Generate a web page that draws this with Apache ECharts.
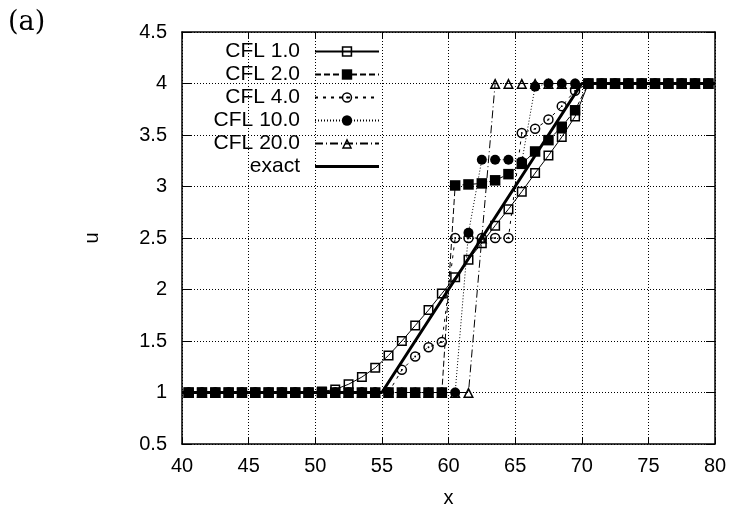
<!DOCTYPE html>
<html>
<head>
<meta charset="utf-8">
<script src="https://cdn.jsdelivr.net/npm/echarts@6/dist/echarts.min.js"></script>
<style>
  html, body { margin: 0; padding: 0; background: #fff; }
  #chart { width: 736px; height: 516px; }
</style>
</head>
<body>
<div id="chart"></div>
<script>
// Cell-centre coordinates of the numerical solutions
const xCells = [
  40.5, 41.5, 42.5, 43.5, 44.5, 45.5, 46.5, 47.5, 48.5, 49.5,
  50.5, 51.5, 52.5, 53.5, 54.5, 55.5, 56.5, 57.5, 58.5, 59.5,
  60.5, 61.5, 62.5, 63.5, 64.5, 65.5, 66.5, 67.5, 68.5, 69.5,
  70.5, 71.5, 72.5, 73.5, 74.5, 75.5, 76.5, 77.5, 78.5, 79.5
];

const uCfl1 = [
  1, 1, 1, 1, 1, 1, 1, 1, 1, 1,
  1.01, 1.03, 1.08, 1.15, 1.24, 1.36, 1.50, 1.65, 1.80, 1.96,
  2.12, 2.29, 2.45, 2.62, 2.78, 2.95, 3.13, 3.30, 3.48, 3.68,
  4, 4, 4, 4, 4, 4, 4, 4, 4, 4
];

const uCfl2 = [
  1, 1, 1, 1, 1, 1, 1, 1, 1, 1,
  1, 1, 1, 1, 1, 1, 1, 1, 1, 1,
  3.01, 3.02, 3.03, 3.06, 3.12, 3.22, 3.34, 3.45, 3.58, 3.74,
  4, 4, 4, 4, 4, 4, 4, 4, 4, 4
];

const uCfl4 = [
  1, 1, 1, 1, 1, 1, 1, 1, 1, 1,
  1, 1, 1, 1, 1, 1, 1.22, 1.35, 1.44, 1.49,
  2.50, 2.50, 2.50, 2.50, 2.50, 3.52, 3.56, 3.65, 3.78, 3.93,
  4, 4, 4, 4, 4, 4, 4, 4, 4, 4
];

const uCfl10 = [
  1, 1, 1, 1, 1, 1, 1, 1, 1, 1,
  1, 1, 1, 1, 1, 1, 1, 1, 1, 1,
  1, 2.55, 3.26, 3.26, 3.26, 3.24, 3.97, 4, 4, 4,
  4, 4, 4, 4, 4, 4, 4, 4, 4, 4
];

const uCfl20 = [
  1, 1, 1, 1, 1, 1, 1, 1, 1, 1,
  1, 1, 1, 1, 1, 1, 1, 1, 1, 1,
  1, 1, 2.50, 4, 4, 4, 4, 4, 4, 4,
  4, 4, 4, 4, 4, 4, 4, 4, 4, 4
];

// Exact solution: piecewise linear ramp
const xExact = [40, 55, 70, 80];
const uExact = [1, 1, 4, 4];

const seriesNames = ['CFL 1.0', 'CFL 2.0', 'CFL 4.0', 'CFL 10.0', 'CFL 20.0', 'exact'];

// Open markers drawn as rings so the connecting line shows through them
const SQUARE_OPEN = 'path://M0,0H10V10H0Z M1.5,1.5V8.5H8.5V1.5Z';
const CIRCLE_OPEN = 'path://M5,0A5,5 0 1,1 5,10A5,5 0 1,1 5,0Z M5,1.4A3.6,3.6 0 1,0 5,8.6A3.6,3.6 0 1,0 5,1.4Z M5,4.1A0.9,0.9 0 1,1 5,5.9A0.9,0.9 0 1,1 5,4.1Z';
const TRIANGLE_OPEN = 'path://M5,0L10,9.5L0,9.5Z M5,3.0L2.2,8.1L7.8,8.1Z';

const zip = (xs, ys) => xs.map((x, i) => [x, ys[i]]);

const FONT = 'Liberation Sans';
const INK = '#000';

function numSeries(name, values, symbol, size, dash) {
  return {
    name: name,
    type: 'line',
    data: zip(xCells, values),
    symbol: symbol,
    symbolSize: size,
    showAllSymbol: true,
    color: INK,
    itemStyle: { color: INK, borderWidth: 0 },
    lineStyle: { color: INK, width: 1, type: dash },
    emphasis: { disabled: true },
    silent: true
  };
}

const axisLine = { show: true, lineStyle: { color: INK, width: 1.5 } };
const gridLine = { show: true, lineStyle: { color: INK, width: 1, type: [1, 2] } };

const chart = echarts.init(document.getElementById('chart'), null, { renderer: 'canvas' });

chart.setOption({
  animation: false,
  backgroundColor: '#fff',
  grid: { left: 182, right: 21, top: 32, bottom: 72, containLabel: false },
  xAxis: [
    {
      type: 'value', min: 40, max: 80, interval: 5, position: 'bottom',
      axisLine: axisLine,
      axisTick: { show: true, inside: true, length: 7, lineStyle: { color: INK, width: 1 } },
      axisLabel: { color: INK, fontSize: 20, fontFamily: FONT, margin: 12 },
      splitLine: gridLine,
      name: 'x', nameLocation: 'middle', nameGap: 44,
      nameTextStyle: { color: INK, fontSize: 20, fontFamily: FONT }
    },
    {
      type: 'value', min: 40, max: 80, interval: 5, position: 'top',
      axisLine: axisLine,
      axisTick: { show: true, inside: true, length: 7, lineStyle: { color: INK, width: 1 } },
      axisLabel: { show: false },
      splitLine: { show: false }
    }
  ],
  yAxis: [
    {
      type: 'value', min: 0.5, max: 4.5, interval: 0.5, position: 'left',
      axisLine: axisLine,
      axisTick: { show: true, inside: true, length: 9, lineStyle: { color: INK, width: 1 } },
      axisLabel: { color: INK, fontSize: 20, fontFamily: FONT, margin: 15 },
      splitLine: gridLine,
      name: 'u', nameLocation: 'middle', nameGap: 80,
      nameTextStyle: { color: INK, fontSize: 20, fontFamily: FONT }
    },
    {
      type: 'value', min: 0.5, max: 4.5, interval: 0.5, position: 'right',
      axisLine: axisLine,
      axisTick: { show: true, inside: true, length: 9, lineStyle: { color: INK, width: 1 } },
      axisLabel: { show: false },
      splitLine: { show: false }
    }
  ],
  legend: {
    orient: 'vertical',
    align: 'right',
    right: 356,
    top: 41,
    padding: 0,
    itemWidth: 64,
    itemHeight: 13,
    itemGap: 2,
    selectedMode: false,
    textStyle: { color: INK, fontSize: 21, fontFamily: FONT, lineHeight: 21, padding: [0, 10, 0, 0] },
    data: [
      seriesNames[0], seriesNames[1], seriesNames[2], seriesNames[3], seriesNames[4],
      { name: seriesNames[5], icon: 'path://M0,0H64V3H0Z' }
    ]
  },
  graphic: [
    {
      type: 'text', left: 8, top: 9,
      style: { text: '(a)', fill: INK, font: '27px "DejaVu Serif"' }
    }
  ],
  series: [
    numSeries(seriesNames[0], uCfl1, SQUARE_OPEN, 10, 'solid'),
    numSeries(seriesNames[1], uCfl2, 'rect', 10.5, [6, 3]),
    numSeries(seriesNames[2], uCfl4, CIRCLE_OPEN, 10.5, [3, 5]),
    numSeries(seriesNames[3], uCfl10, 'circle', 10, [1, 2]),
    numSeries(seriesNames[4], uCfl20, TRIANGLE_OPEN, 11, [8, 3, 1, 3]),
    {
      name: seriesNames[5],
      type: 'line',
      data: zip(xExact, uExact),
      symbol: 'none',
      color: INK,
      itemStyle: { color: INK },
      lineStyle: { color: INK, width: 3, type: 'solid' },
      emphasis: { disabled: true },
      silent: true,
      z: 3
    }
  ]
});
</script>
</body>
</html>
